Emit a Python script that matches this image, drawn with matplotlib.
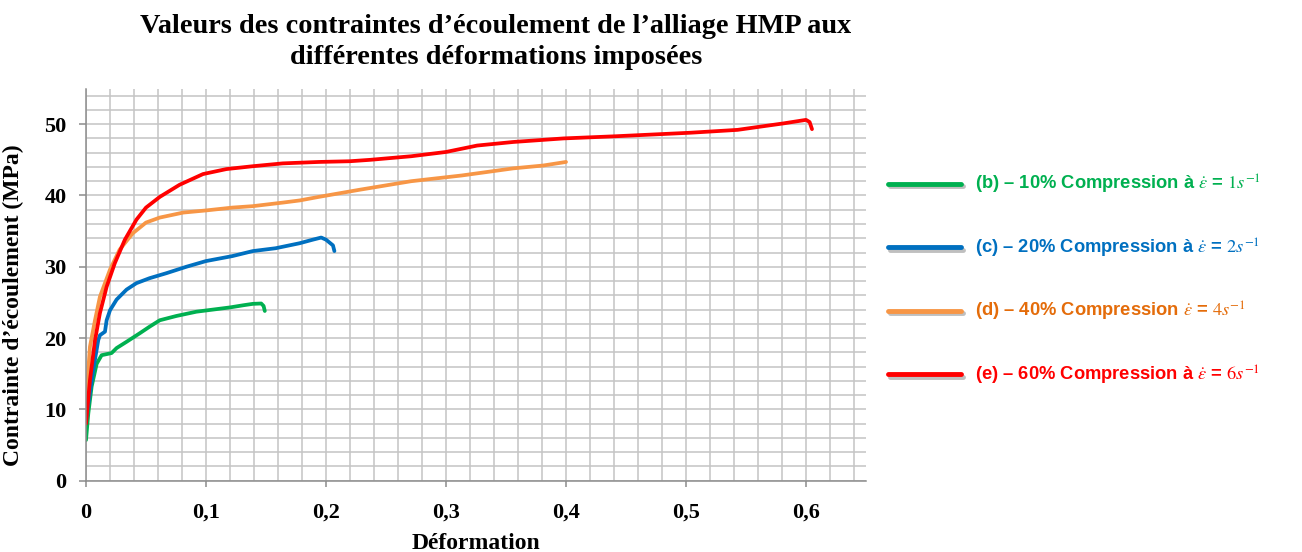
import matplotlib
matplotlib.use("Agg")
import matplotlib.pyplot as plt
import matplotlib.patheffects as pe
from matplotlib.ticker import MultipleLocator, FuncFormatter

# ---- data ----
strain_b = [0.0, 0.0019, 0.0047, 0.0089, 0.013, 0.0213, 0.0255, 0.034, 0.045, 0.053, 0.0615,
            0.0753, 0.092, 0.106, 0.12, 0.131, 0.139, 0.146, 0.148, 0.149]
stress_b = [5.7, 9.4, 13.2, 16.4, 17.6, 17.9, 18.6, 19.5, 20.7, 21.6, 22.5,
            23.1, 23.7, 24.0, 24.3, 24.6, 24.8, 24.85, 24.5, 23.8]

strain_c = [0.0, 0.006, 0.0102, 0.0116, 0.0158, 0.0172, 0.02, 0.0255, 0.0338, 0.042, 0.053,
            0.067, 0.0836, 0.100, 0.122, 0.139, 0.158, 0.178, 0.189, 0.196, 0.200, 0.2058, 0.207]
stress_c = [8.5, 15.5, 19.7, 20.4, 20.9, 22.5, 23.9, 25.4, 26.8, 27.7, 28.4,
            29.1, 30.0, 30.8, 31.5, 32.2, 32.6, 33.3, 33.8, 34.1, 33.8, 33.0, 32.2]

strain_d = [0.0, 0.0033, 0.0075, 0.0116, 0.02, 0.028, 0.039, 0.050, 0.0615, 0.081, 0.100,
            0.122, 0.139, 0.164, 0.178, 0.194, 0.228, 0.271, 0.313, 0.356, 0.381, 0.400]
stress_d = [11.0, 18.8, 22.5, 25.8, 29.6, 32.4, 34.7, 36.2, 36.9, 37.6, 37.9,
            38.3, 38.5, 39.0, 39.3, 39.8, 40.8, 42.0, 42.8, 43.8, 44.2, 44.7]

strain_e = [0.0, 0.0033, 0.0075, 0.0116, 0.0172, 0.024, 0.0324, 0.042, 0.050, 0.0615, 0.078,
            0.0975, 0.117, 0.139, 0.164, 0.194, 0.22, 0.237, 0.271, 0.30, 0.326, 0.356,
            0.398, 0.441, 0.504, 0.543, 0.564, 0.581, 0.600, 0.603, 0.605]
stress_e = [8.0, 14.1, 19.7, 23.5, 27.2, 30.5, 33.8, 36.6, 38.3, 39.8, 41.5,
            43.0, 43.7, 44.1, 44.5, 44.7, 44.8, 45.0, 45.5, 46.1, 47.0, 47.5,
            48.0, 48.3, 48.8, 49.2, 49.7, 50.1, 50.6, 50.3, 49.3]

labels = [r"(b) – 10% Compression à $\dot{\varepsilon}$ = $1s^{-1}$",
          r"(c) – 20% Compression à $\dot{\varepsilon}$ = $2s^{-1}$",
          r"(d) – 40% Compression $\dot{\varepsilon}$ = $4s^{-1}$",
          r"(e) – 60% Compression à $\dot{\varepsilon}$ = $6s^{-1}$"]
line_colors = ["#00B050", "#0070C0", "#F79646", "#FF0000"]
text_colors = ["#00B050", "#0070C0", "#E46C0A", "#FF0000"]

title = "Valeurs des contraintes d’écoulement de l’alliage HMP aux\ndifférentes déformations imposées"
xlabel = "Déformation"
ylabel = "Contrainte d’écoulement (MPa)"

# ---- figure ----
plt.rcParams["mathtext.fontset"] = "stix"
fig = plt.figure(figsize=(13.02, 5.52), dpi=100)
ax = fig.add_axes([86 / 1302, 1 - 480.7 / 552, 780 / 1302, (480.7 - 88.5) / 552])

series = [(strain_b, stress_b), (strain_c, stress_c), (strain_d, stress_d), (strain_e, stress_e)]
handles = []
for (xs, ys), c, lab in zip(series, line_colors, labels):
    ln, = ax.plot(xs, ys, color=c, lw=2.7, solid_capstyle="round", solid_joinstyle="round", label=lab)
    handles.append(ln)

ax.set_xlim(0, 0.65)
ax.set_ylim(0, 55)
ax.xaxis.set_minor_locator(MultipleLocator(0.02))
ax.yaxis.set_major_locator(MultipleLocator(10))
ax.yaxis.set_minor_locator(MultipleLocator(2))
ax.set_xticks([0, 0.1, 0.2, 0.3, 0.4, 0.5, 0.6])


def xfmt(v, _):
    if abs(v) < 1e-9:
        return "0"
    return f"{v:.1f}".replace(".", ",")


ax.xaxis.set_major_formatter(FuncFormatter(xfmt))
ax.grid(True, which="both", color="#c4c4c4", lw=1.1)
ax.set_axisbelow(True)
for s in ["top", "right"]:
    ax.spines[s].set_visible(False)
for s in ["left", "bottom"]:
    ax.spines[s].set_color("#8c8c8c")
    ax.spines[s].set_linewidth(1.1)
ax.tick_params(which="major", width=1.1, color="#8c8c8c")
ax.tick_params(axis="x", which="major", length=4, pad=12)
ax.tick_params(axis="y", which="major", length=5, pad=9)
ax.tick_params(which="minor", length=0)

serif = "Liberation Serif"
for lbl in ax.get_xticklabels() + ax.get_yticklabels():
    lbl.set_fontfamily(serif)
    lbl.set_fontweight("bold")
    lbl.set_fontsize(16)
ax.set_xlabel(xlabel, fontfamily=serif, fontweight="bold", fontsize=17, labelpad=7)
ax.set_ylabel(ylabel, fontfamily=serif, fontweight="bold", fontsize=17)
ax.yaxis.set_label_coords(-62 / 780, (480.7 - 305) / 392.2)

fig.text(496 / 1302, 1 - 42 / 552, title, ha="center", va="center", fontfamily=serif,
         fontweight="bold", fontsize=20.3, linespacing=1.33)

# legend
leg = fig.legend(handles=handles, labels=labels, loc="upper left",
                 bbox_to_anchor=(888 / 1302, 1 - 173 / 552), frameon=False,
                 prop={"family": "Liberation Sans", "weight": "bold", "size": 13.2},
                 handlelength=4.0, handletextpad=0.75, labelspacing=2.2,
                 borderpad=0, borderaxespad=0)
for txt, c in zip(leg.get_texts(), text_colors):
    txt.set_color(c)
for lh in leg.get_lines():
    lh.set_linewidth(3.5)
    lh.set_path_effects([pe.SimpleLineShadow(offset=(1.5, -2), shadow_color="#808080", alpha=0.5),
                         pe.Normal()])

fig.savefig("out.png", dpi=100)
